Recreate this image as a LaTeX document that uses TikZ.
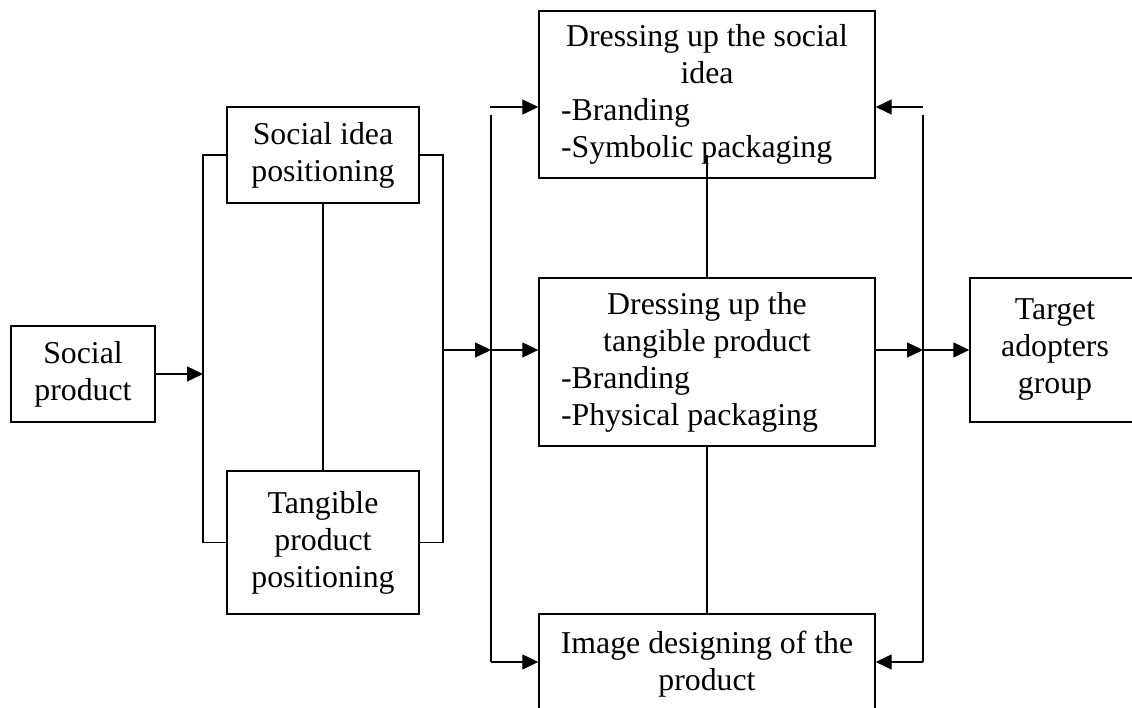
\documentclass[tikz,border=0pt]{standalone}
\usepackage{fontspec}
\setmainfont{Liberation Serif}
\usetikzlibrary{arrows.meta}

\newcommand{\headline}[1]{\makebox[292pt]{#1}}

\tikzset{
  boxfont/.style={font=\fontsize{31.8}{37}\selectfont},
  box/.style={draw, line width=1.4pt, inner sep=0pt, align=center, boxfont},
  listbox/.style={draw, line width=1.4pt, inner ysep=0pt, inner xsep=22pt,
                  align=left, minimum width=336pt, boxfont},
  link/.style={line width=1.3pt},
  arr/.style={link, -{Triangle[length=16pt,width=15pt]}}
}

\begin{document}
\begin{tikzpicture}[x=1pt, y=-1pt]
  \clip (0,0) rectangle (1132,708);
  \useasboundingbox (0,0) rectangle (1132,708);

  % left column
  \node[box, minimum width=144pt, minimum height=96pt] (sp) at (83,374) {Social\\product};
  \node[box, minimum width=192pt, minimum height=96pt] (sip) at (323,155) {Social idea\\positioning};
  \node[box, minimum width=192pt, minimum height=143pt] (tpp) at (323,542.5) {Tangible\\product\\positioning};

  % middle column
  \node[listbox, minimum height=167pt] (dsi) at (707,94.5)
    {\headline{Dressing up the social}\\\headline{idea}\\-Branding\\-Symbolic packaging};
  \node[listbox, minimum height=168pt] (dtp) at (707,362)
    {\headline{Dressing up the}\\\headline{tangible product}\\-Branding\\-Physical packaging};
  \node[box, minimum width=336pt, minimum height=100pt] (idp) at (707,664)
    {Image designing of the\\product};

  % right column
  \node[box, minimum width=170pt, minimum height=144pt] (tag) at (1055,350) {Target\\adopters\\group};

  % junction points
  \coordinate (lb)   at (203,374);
  \coordinate (rb)   at (443,350);
  \coordinate (lj)   at (491,350);
  \coordinate (ltop) at (491,115);
  \coordinate (la)   at (490,107);
  \coordinate (lbot) at (491,662);
  \coordinate (rj)   at (923,350);
  \coordinate (rtop) at (923,115);
  \coordinate (ra)   at (923,107);
  \coordinate (rbot) at (923,662);
  \coordinate (c1)   at (707,155);

  % positioning bracket
  \draw[arr] (sp.east) -- (lb);
  \draw[link] (sip.west) -| (lb) |- (tpp.west);
  \draw[link] (sip.south) -- (tpp.north);
  \draw[link] (sip.east) -| (rb) |- (tpp.east);
  \draw[arr] (rb) -- (lj);

  % distribution to the dressing-up boxes
  \draw[link] (ltop) -- (lbot);
  \draw[arr] (la) -- (la -| dsi.west);
  \draw[arr] (lj) -- (lj -| dtp.west);
  \draw[arr] (lbot) -- (lbot -| idp.west);

  % links between the dressing-up boxes
  \draw[link] (c1) -- (c1 |- dtp.north);
  \draw[link] (dtp.south) -- (idp.north);

  % feedback and output
  \draw[link] (rtop) -- (rbot);
  \draw[arr] (ra) -- (ra -| dsi.east);
  \draw[arr] (rbot) -- (rbot -| idp.east);
  \draw[arr] (rj -| dtp.east) -- (rj);
  \draw[arr] (rj) -- (rj -| tag.west);
\end{tikzpicture}
\end{document}
